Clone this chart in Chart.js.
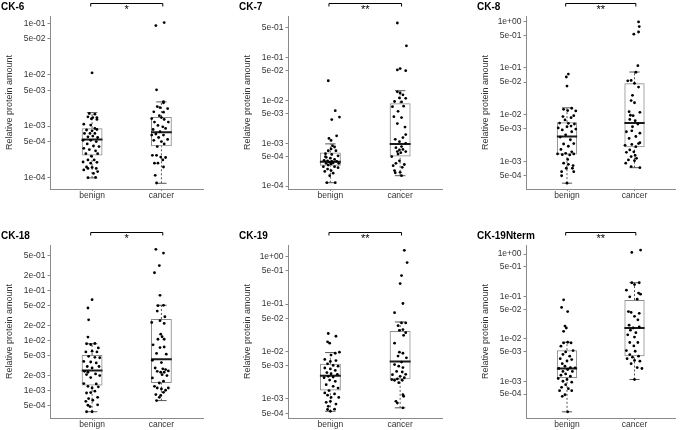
<!DOCTYPE html>
<html><head><meta charset="utf-8">
<script src="https://cdn.jsdelivr.net/npm/chart.js@4/dist/chart.umd.min.js"></script>
<style>
html,body{margin:0;padding:0;background:#fff;width:683px;height:430px;overflow:hidden;}
.panel{position:absolute;}
</style></head><body>
<script>
// ---------- DATA ----------
const groups = ['benign', 'cancer'];
const panelTitles = ['CK-6', 'CK-7', 'CK-8', 'CK-18', 'CK-19', 'CK-19Nterm'];
const significanceLabels = ['*', '**', '**', '*', '**', '**'];
const yAxisTitle = 'Relative protein amount';

// box stats: [lower whisker, Q1, median, Q3, upper whisker]
const ck6Ticks = [1e-4, 5e-4, 1e-3, 5e-3, 1e-2, 5e-2, 1e-1];
const ck6BenignBox = [9.8e-5, 2.67e-4, 5.47e-4, 9.1e-4, 1.83e-3];
const ck6CancerBox = [7.7e-5, 4.06e-4, 7.6e-4, 1.51e-3, 2.96e-3];
const ck6BenignValues = [1.76e-3,1.71e-3,1.52e-3,1.47e-3,1.47e-3,1.39e-3,1.35e-3,1.09e-3,1.05e-3,9.0e-4,8.4e-4,8.1e-4,8.6e-4,7.2e-4,7.2e-4,7.2e-4,6.2e-4,6.4e-4,6.0e-4,5.3e-4,5.3e-4,5.0e-4,4.5e-4,4.1e-4,4.0e-4,3.7e-4,3.5e-4,3.3e-4,2.9e-4,2.9e-4,2.6e-4,2.2e-4,2.2e-4,2.0e-4,1.97e-4,1.9e-4,1.6e-4,1.57e-4,1.5e-4,1.5e-4,1.4e-4,1.3e-4,1.2e-4,9.9e-5,1.0e-4,1.09e-2];
const ck6CancerValues = [9.1e-2,1.04e-1,5.1e-3,3.0e-3,2.84e-3,2.4e-3,2.2e-3,2.3e-3,1.9e-3,1.87e-3,1.6e-3,1.4e-3,1.47e-3,1.35e-3,1.2e-3,1.2e-3,1.03e-3,9.7e-4,8.6e-4,9.0e-4,7.8e-4,7.0e-4,6.7e-4,6.7e-4,6.0e-4,5.5e-4,5.3e-4,5.0e-4,4.5e-4,4.0e-4,2.7e-4,2.7e-4,2.5e-4,2.45e-4,2.2e-4,1.9e-4,1.9e-4,1.6e-4,1.1e-4,7.8e-5];

const ck7Ticks = [1e-4, 5e-4, 1e-3, 5e-3, 1e-2, 5e-2, 1e-1, 5e-1];
const ck7BenignBox = [1.2e-4, 3.0e-4, 3.7e-4, 6.1e-4, 9.7e-4];
const ck7CancerBox = [1.75e-4, 4.9e-4, 9.7e-4, 8.6e-3, 1.7e-2];
const ck7BenignValues = [2.9e-2,5.8e-3,3.6e-3,4.1e-3,1.5e-3,1.3e-3,1.17e-3,8.8e-4,8.2e-4,7.4e-4,6.7e-4,6.7e-4,5.7e-4,5.5e-4,5.1e-4,4.7e-4,4.5e-4,4.2e-4,4.0e-4,3.9e-4,3.8e-4,3.8e-4,3.6e-4,3.5e-4,3.4e-4,3.4e-4,3.3e-4,3.1e-4,2.85e-4,2.85e-4,2.5e-4,2.3e-4,2.2e-4,2.0e-4,1.75e-4,1.2e-4,1.2e-4,2.7e-4,4.9e-4];
const ck7CancerValues = [6.5e-1,1.9e-1,5.2e-2,5.6e-2,5.0e-2,1.6e-2,1.5e-2,1.36e-2,9.5e-3,9.3e-3,1.15e-2,1.13e-2,7.2e-3,7.4e-3,5.6e-3,4.2e-3,4.0e-3,2.9e-3,2.4e-3,1.6e-3,1.36e-3,1.24e-3,1.09e-3,1.0e-3,8.4e-4,7.9e-4,7.0e-4,7.2e-4,6.4e-4,6.05e-4,6.4e-4,5.6e-4,4.9e-4,3.9e-4,3.4e-4,3.2e-4,3.0e-4,2.75e-4,2.3e-4,2.1e-4,2.05e-4,1.75e-4];

const ck8Ticks = [5e-4, 1e-3, 5e-3, 1e-2, 5e-2, 1e-1, 5e-1, 1];
const ck8BenignBox = [3.4e-4, 1.4e-3, 3.4e-3, 6.9e-3, 1.4e-2];
const ck8CancerBox = [7.3e-4, 2.0e-3, 6.6e-3, 4.7e-2, 8.2e-2];
const ck8BenignValues = [7.4e-2,6.4e-2,4.1e-2,1.37e-2,1.3e-2,1.22e-2,1.2e-2,9.1e-3,9.5e-3,8.6e-3,7.7e-3,6.6e-3,6.5e-3,6.3e-3,5.7e-3,5.5e-3,5.2e-3,4.7e-3,4.9e-3,4.3e-3,3.7e-3,3.3e-3,2.9e-3,2.4e-3,2.35e-3,2.1e-3,1.8e-3,1.6e-3,1.48e-3,1.44e-3,1.39e-3,1.37e-3,1.44e-3,1.1e-3,9.1e-4,8.6e-4,8.1e-4,7.1e-4,7.1e-4,6.0e-4,6.0e-4,4.9e-4,3.4e-4];
const ck8CancerValues = [9.7e-1,7.7e-1,5.9e-1,5.3e-1,1.12e-1,8.1e-2,5.3e-2,5.4e-2,4.7e-2,3.9e-2,2.6e-2,2.0e-2,1.8e-2,1.16e-2,9.7e-3,9.5e-3,1.12e-2,7.9e-3,7.4e-3,6.3e-3,5.5e-3,4.5e-3,4.3e-3,4.0e-3,3.4e-3,3.1e-3,2.5e-3,2.4e-3,2.3e-3,2.2e-3,2.06e-3,1.75e-3,1.6e-3,1.56e-3,1.34e-3,1.26e-3,1.16e-3,1.07e-3,1.03e-3,9.1e-4,7.7e-4,7.3e-4];

const ck18Ticks = [5e-4, 1e-3, 2e-3, 5e-3, 1e-2, 2e-2, 5e-2, 1e-1, 2e-1, 5e-1];
const ck18BenignBox = [3.7e-4, 1.24e-3, 2.5e-3, 5.1e-3, 8.6e-3];
const ck18CancerBox = [6.2e-4, 1.4e-3, 4.2e-3, 2.7e-2, 5.1e-2];
const ck18BenignValues = [6.6e-2,4.5e-2,2.6e-2,1.17e-2,8.6e-3,8.3e-3,8.7e-3,7.1e-3,5.9e-3,6.1e-3,5.9e-3,4.8e-3,4.6e-3,4.5e-3,3.8e-3,3.7e-3,3.55e-3,3.0e-3,3.0e-3,2.8e-3,2.4e-3,2.3e-3,2.07e-3,2.13e-3,1.97e-3,1.8e-3,1.36e-3,1.34e-3,1.2e-3,1.11e-3,1.17e-3,9.6e-4,8.8e-4,9.0e-4,7.2e-4,6.8e-4,6.3e-4,6.0e-4,5.1e-4,5.0e-4,4.7e-4,3.7e-4,3.7e-4];
const ck18CancerValues = [6.8e-1,5.7e-1,3.2e-1,2.3e-1,8.1e-2,5.0e-2,5.1e-2,3.9e-2,3.0e-2,2.5e-2,2.3e-2,2.2e-2,1.34e-2,1.19e-2,1.06e-2,1.06e-2,8.2e-3,7.2e-3,7.4e-3,5.5e-3,5.3e-3,4.0e-3,3.6e-3,2.8e-3,2.7e-3,2.6e-3,2.4e-3,2.3e-3,2.3e-3,2.45e-3,2.06e-3,1.97e-3,1.77e-3,1.52e-3,1.4e-3,1.2e-3,1.11e-3,1.11e-3,1.06e-3,1.0e-3,9.1e-4,8.2e-4,7.9e-4,7.2e-4,6.2e-4];

const ck19Ticks = [5e-4, 1e-3, 5e-3, 1e-2, 5e-2, 1e-1, 5e-1, 1];
const ck19BenignBox = [5.5e-4, 1.5e-3, 3.1e-3, 5.5e-3, 9.5e-3];
const ck19CancerBox = [6.5e-4, 2.6e-3, 6.2e-3, 2.7e-2, 4.2e-2];
const ck19BenignValues = [2.4e-2,2.1e-2,1.6e-2,1.5e-2,9.2e-3,9.7e-3,8.4e-3,6.8e-3,6.2e-3,6.45e-3,5.5e-3,5.1e-3,4.9e-3,4.5e-3,4.3e-3,4.0e-3,3.6e-3,3.4e-3,3.3e-3,3.0e-3,2.9e-3,2.8e-3,2.5e-3,2.36e-3,2.0e-3,1.85e-3,1.7e-3,1.5e-3,1.34e-3,1.28e-3,1.2e-3,1.08e-3,1.08e-3,8.9e-4,8.5e-4,7.8e-4,7.0e-4,6.0e-4,5.5e-4,6.1e-4];
const ck19CancerValues = [1.36,7.5e-1,4.0e-1,2.7e-1,1.03e-1,6.6e-2,4.0e-2,4.0e-2,3.5e-2,2.9e-2,2.8e-2,2.5e-2,2.2e-2,1.5e-2,9.7e-3,9.2e-3,8.0e-3,7.35e-3,6.0e-3,5.3e-3,4.9e-3,4.6e-3,3.8e-3,3.7e-3,3.3e-3,3.25e-3,3.0e-3,2.8e-3,2.65e-3,2.56e-3,2.48e-3,2.48e-3,2.2e-3,1.23e-3,1.14e-3,8.9e-4,8.2e-4,6.5e-4];

const ck19nTicks = [5e-4, 1e-3, 5e-3, 1e-2, 5e-2, 1e-1, 5e-1, 1];
const ck19nBenignBox = [1.9e-4, 1.2e-3, 2.0e-3, 5.4e-3, 8.3e-3];
const ck19nCancerBox = [1.1e-3, 3.9e-3, 1.8e-2, 8.2e-2, 2.1e-1];
const ck19nBenignValues = [8.3e-2,5.5e-2,4.4e-2,2.0e-2,1.8e-2,1.5e-2,8.3e-3,8.0e-3,8.0e-3,6.7e-3,5.3e-3,4.9e-3,4.3e-3,3.9e-3,3.4e-3,3.25e-3,3.0e-3,2.6e-3,2.26e-3,2.1e-3,2.07e-3,2.0e-3,1.89e-3,1.7e-3,1.7e-3,1.49e-3,1.39e-3,1.31e-3,1.16e-3,1.1e-3,1.0e-3,9.5e-4,8.3e-4,7.2e-4,6.7e-4,6.0e-4,6.0e-4,4.8e-4,4.4e-4,1.9e-4];
const ck19nCancerValues = [1.09,1.24,2.1e-1,2.1e-1,1.9e-1,1.4e-1,1.2e-1,1.13e-1,9.8e-2,8.6e-2,4.4e-2,4.2e-2,4.0e-2,3.4e-2,2.8e-2,2.1e-2,1.8e-2,1.9e-2,1.6e-2,1.4e-2,1.24e-2,1.1e-2,8.2e-3,8.2e-3,6.8e-3,5.3e-3,5.1e-3,4.25e-3,3.9e-3,3.7e-3,3.4e-3,3.1e-3,2.97e-3,2.6e-3,2.1e-3,2.0e-3,1.1e-3];

// ---------- horizontal jitter offsets (positions) ----------
const ck6BenignJitter = [-0.04,0.04,-0.06,0.01,0.07,-0.01,0.07,-0.12,-0.02,0.04,-0.08,0,0.07,-0.11,-0.03,0.04,-0.06,0.01,0.08,-0.13,-0.02,0.06,-0.07,0.02,0.1,-0.12,-0.04,0.05,0.08,-0.09,-0.01,-0.06,0.03,-0.13,0.07,-0.02,-0.08,0,-0.06,0.06,-0.12,0.08,0.02,-0.06,0.05,0];
const ck6CancerJitter = [-0.08,0.04,-0.07,0.03,0.03,-0.06,0.09,-0.02,-0.11,0.03,-0.03,-0.14,0,0.04,-0.1,0.1,-0.05,0.02,-0.12,0.06,-0.02,-0.08,-0.14,0.03,-0.04,0.09,-0.11,0,0.04,-0.06,-0.13,-0.07,-0.01,0.06,0.02,-0.1,-0.05,0.03,-0.09,-0.07];
const ck7BenignJitter = [-0.03,0.07,0.02,0.13,0.09,-0.02,0.01,0.03,0.06,0.01,-0.03,0.08,-0.07,0.02,0.11,-0.06,0,0.06,-0.09,-0.04,0.02,0.09,-0.01,0.04,-0.06,0.12,0.01,-0.03,-0.1,0.06,-0.04,0.01,-0.08,0.04,-0.01,-0.05,0.07,0.11,-0.07];
const ck7CancerJitter = [-0.04,0.09,-0.04,0,0.08,-0.04,0,0.04,-0.08,0.02,-0.01,0.08,-0.11,0.05,-0.03,-0.09,0.02,-0.04,0.07,0.08,0.04,-0.07,-0.01,0.08,0.02,-0.06,-0.01,0.04,-0.04,0.01,0.08,-0.03,-0.12,-0.01,-0.06,0.06,-0.1,0.03,-0.08,0,-0.07,0.02];
const ck8BenignJitter = [0.02,-0.01,0,0.07,-0.05,0.01,0.13,-0.06,0.1,0.06,-0.03,-0.11,0.02,0.11,0.06,0,-0.13,-0.07,0.13,0.07,-0.02,-0.1,0.05,0.1,-0.05,0.02,-0.09,0.07,-0.02,-0.14,-0.07,0.04,0.1,0.01,-0.05,0.02,0.09,0.08,-0.01,-0.08,0.1,-0.08,0];
const ck8CancerJitter = [0.06,0.07,0.06,-0.01,0.05,0.02,-0.1,-0.05,0,0.06,-0.03,-0.05,0,-0.08,-0.06,-0.02,0.08,-0.07,0.01,0.05,-0.03,-0.04,-0.12,0.08,0.02,-0.08,0.08,0.06,-0.04,-0.14,0.02,-0.07,-0.01,-0.12,0.01,-0.05,0.03,-0.09,0,-0.13,-0.05,0.08];
const ck18BenignJitter = [0,-0.06,-0.05,-0.06,-0.08,-0.02,0.04,0.09,-0.09,0,0.07,-0.05,0.04,0.11,-0.12,-0.02,0.06,-0.07,0.1,0,-0.11,-0.06,-0.08,0.05,0.11,-0.02,-0.12,0.06,-0.06,0,0.09,0.04,-0.08,-0.02,0.08,-0.05,0.01,-0.09,0.08,-0.06,-0.03,-0.08,0];
const ck18CancerJitter = [-0.08,0.03,-0.03,-0.1,-0.02,-0.05,0.03,-0.06,0.05,-0.02,-0.14,0.04,-0.01,0.01,-0.05,0.04,-0.12,-0.02,0.04,-0.07,0.07,-0.13,0,-0.09,0.02,0.06,-0.06,-0.01,0.04,0.1,0.01,0.08,-0.13,0.03,-0.03,-0.1,0.1,-0.06,0,0.06,0.03,-0.08,-0.01,-0.03,-0.07];
const ck19BenignJitter = [-0.03,0.08,-0.04,-0.01,0.07,0.13,0.01,-0.08,0,0.08,-0.04,0.04,0.11,-0.08,0,0.07,-0.05,0.01,0.1,-0.03,0.04,-0.09,-0.01,0.07,-0.06,0.04,0.11,-0.02,-0.08,0.06,-0.04,0.12,0.01,0,-0.06,0.08,-0.03,-0.04,0,0.06];
const ck19CancerJitter = [0.06,0.1,0.02,0,0.04,-0.08,0.02,0.08,-0.03,0.04,-0.01,0.08,0.05,-0.08,-0.01,0.04,-0.03,0.09,0.02,-0.08,-0.02,0.04,-0.05,0.03,0.08,-0.11,0,0.06,-0.04,-0.12,-0.08,0.03,-0.02,0.04,0.05,-0.06,-0.04,0.04];
const ck19nBenignJitter = [-0.05,-0.08,0.01,-0.03,-0.01,-0.05,0.01,-0.05,0.06,-0.09,0.09,-0.02,-0.06,0.04,-0.1,0.07,0,-0.07,-0.03,0.05,0.12,-0.12,0.01,-0.06,0.08,-0.02,-0.09,0.05,-0.13,0,-0.06,0.07,-0.02,-0.08,0.02,-0.11,0.07,-0.03,-0.07,0.01];
const ck19nCancerJitter = [-0.04,0.09,-0.04,0.07,0,-0.12,0.06,0.09,-0.07,0.04,-0.09,-0.05,0.07,0,0.05,-0.08,-0.02,0.07,-0.06,0.02,-0.1,0,-0.07,0.05,-0.01,-0.12,0.01,-0.07,0.06,-0.03,-0.11,0,0.08,-0.05,0.04,0.11,0];

// ---------- LAYOUT ----------
const panels = [
  {ticks: ck6Ticks, bBox: ck6BenignBox, cBox: ck6CancerBox, bVals: ck6BenignValues, cVals: ck6CancerValues, bJit: ck6BenignJitter, cJit: ck6CancerJitter, yMin: 5.96e-5, yMax: 0.1396, left: 0, top: 0, width: 207},
  {ticks: ck7Ticks, bBox: ck7BenignBox, cBox: ck7CancerBox, bVals: ck7BenignValues, cVals: ck7CancerValues, bJit: ck7BenignJitter, cJit: ck7CancerJitter, yMin: 8.55e-5, yMax: 0.948, left: 238, top: 0, width: 208},
  {ticks: ck8Ticks, bBox: ck8BenignBox, cBox: ck8CancerBox, bVals: ck8BenignValues, cVals: ck8CancerValues, bJit: ck8BenignJitter, cJit: ck8CancerJitter, yMin: 2.55e-4, yMax: 1.30, left: 476, top: 0, width: 203},
  {ticks: ck18Ticks, bBox: ck18BenignBox, cBox: ck18CancerBox, bVals: ck18BenignValues, cVals: ck18CancerValues, bJit: ck18BenignJitter, cJit: ck18CancerJitter, yMin: 2.77e-4, yMax: 0.83, left: 0, top: 229, width: 207},
  {ticks: ck19Ticks, bBox: ck19BenignBox, cBox: ck19CancerBox, bVals: ck19BenignValues, cVals: ck19CancerValues, bJit: ck19BenignJitter, cJit: ck19CancerJitter, yMin: 3.97e-4, yMax: 1.76, left: 238, top: 229, width: 208},
  {ticks: ck19nTicks, bBox: ck19nBenignBox, cBox: ck19nCancerBox, bVals: ck19nBenignValues, cVals: ck19nCancerValues, bJit: ck19nBenignJitter, cJit: ck19nCancerJitter, yMin: 1.36e-4, yMax: 1.63, left: 476, top: 229, width: 203}
];

const FONT = "'Liberation Sans', Arial, sans-serif";
Chart.defaults.font.family = FONT;
const AXIS_COLOR = '#8a8a8a';
const TEXT_COLOR = '#333333';
const CANVAS_H = 212;

function fmtExp(v) {
  const e = Math.floor(Math.log10(v) + 1e-9);
  const m = Math.round(v / Math.pow(10, e));
  return m + 'e' + (e < 0 ? '-' : '+') + String(Math.abs(e)).padStart(2, '0');
}

const bracketPlugin = {
  id: 'sigBracket',
  afterDraw(chart) {
    const lbl = chart.options.plugins.sigBracket.label;
    const xs = chart.scales.x;
    const ca = chart.chartArea;
    const ctx = chart.ctx;
    const y0 = Math.round(ca.top - 13) + 0.5;
    const x1 = xs.getPixelForValue(0.98), x2 = xs.getPixelForValue(2.02);
    ctx.save();
    ctx.strokeStyle = '#000';
    ctx.lineWidth = 1;
    ctx.beginPath();
    ctx.moveTo(x1, y0 + 3); ctx.lineTo(x1, y0); ctx.lineTo(x2, y0); ctx.lineTo(x2, y0 + 3);
    ctx.stroke();
    ctx.fillStyle = '#000';
    ctx.font = '11px ' + FONT;
    ctx.textAlign = 'center';
    ctx.textBaseline = 'top';
    ctx.fillText(lbl, (x1 + x2) / 2, y0 + 1);
    ctx.restore();
  }
};

panels.forEach((p, idx) => {
  const div = document.createElement('div');
  div.className = 'panel';
  div.style.left = p.left + 'px';
  div.style.top = p.top + 'px';
  const cv = document.createElement('canvas');
  cv.width = p.width; cv.height = CANVAS_H;
  cv.style.width = p.width + 'px'; cv.style.height = CANVAS_H + 'px';
  div.appendChild(cv);
  document.body.appendChild(div);

  const points = [];
  p.bVals.forEach((v, i) => points.push({x: 1 + (p.bJit[i] || 0), y: v}));
  p.cVals.forEach((v, i) => points.push({x: 2 + (p.cJit[i] || 0), y: v}));
  const boxes = [p.bBox, p.cBox];
  const hw = 0.15, cw = 0.075;
  const medians = [], whiskers = [], caps = [];
  boxes.forEach((b, g) => {
    const c = g + 1;
    medians.push({x: c - hw, y: b[2]}, {x: c + hw, y: b[2]}, {x: c + 0.5, y: null});
    whiskers.push({x: c, y: b[0]}, {x: c, y: b[1]}, {x: c, y: null}, {x: c, y: b[3]}, {x: c, y: b[4]}, {x: c + 0.5, y: null});
    caps.push({x: c - cw, y: b[0]}, {x: c + cw, y: b[0]}, {x: c, y: null}, {x: c - cw, y: b[4]}, {x: c + cw, y: b[4]}, {x: c + 0.5, y: null});
  });

  new Chart(cv, {
    type: 'bar',
    data: {
      datasets: [
        {type: 'scatter', data: points, pointRadius: 1.4, pointBackgroundColor: '#000', pointBorderWidth: 0, order: 0},
        {type: 'line', data: medians, borderColor: '#1a1a1a', borderWidth: 2, pointRadius: 0, spanGaps: false, order: 1},
        {type: 'line', data: whiskers, borderColor: '#555', borderWidth: 1, borderDash: [2, 2], pointRadius: 0, spanGaps: false, order: 2},
        {type: 'line', data: caps, borderColor: '#555', borderWidth: 1, pointRadius: 0, spanGaps: false, order: 2},
        {type: 'bar', data: boxes.map((b, g) => ({x: g + 1, y: [b[1], b[3]]})), backgroundColor: 'rgba(255,255,255,0)', borderColor: '#8c8c8c', borderWidth: 1, borderSkipped: false, barPercentage: 0.3, categoryPercentage: 1, order: 3}
      ]
    },
    options: {
      responsive: false,
      animation: false,
      layout: {padding: {left: 1, right: 3, top: 0, bottom: 0}},
      plugins: {
        legend: {display: false},
        tooltip: {enabled: false},
        title: {display: true, text: panelTitles[idx], align: 'start', color: '#000', font: {size: 10, weight: 'bold', family: FONT}, padding: {top: 1, bottom: 3}},
        sigBracket: {label: significanceLabels[idx]}
      },
      scales: {
        x: {
          type: 'linear', min: 0.4, max: 2.6, offset: false,
          grid: {display: true, drawOnChartArea: false, drawTicks: true, tickLength: 2, color: AXIS_COLOR, offset: false},
          border: {display: true, color: AXIS_COLOR, width: 1},
          ticks: {font: {size: 8.5, family: FONT}, color: TEXT_COLOR, padding: 0, autoSkip: false, maxRotation: 0,
                  callback: v => groups[Math.round(v) - 1] || ''},
          afterBuildTicks: s => { s.ticks = [{value: 1}, {value: 2}]; },
          afterFit: s => { s.height = CANVAS_H - 189; }
        },
        y: {
          type: 'logarithmic', min: p.yMin, max: p.yMax,
          grid: {display: true, drawOnChartArea: false, drawTicks: true, tickLength: 3, color: AXIS_COLOR},
          border: {display: true, color: AXIS_COLOR, width: 1},
          ticks: {font: {size: 8.5, family: FONT}, color: TEXT_COLOR, padding: 2, autoSkip: false, callback: v => fmtExp(v)},
          afterBuildTicks: s => { s.ticks = p.ticks.map(v => ({value: v})); },
          afterFit: s => { s.width = 49.5; },
          title: {display: true, text: yAxisTitle, color: TEXT_COLOR, font: {size: 9, family: FONT}, padding: {top: 3, bottom: 0}}
        }
      }
    },
    plugins: [bracketPlugin]
  });
});
</script>
</body></html>
